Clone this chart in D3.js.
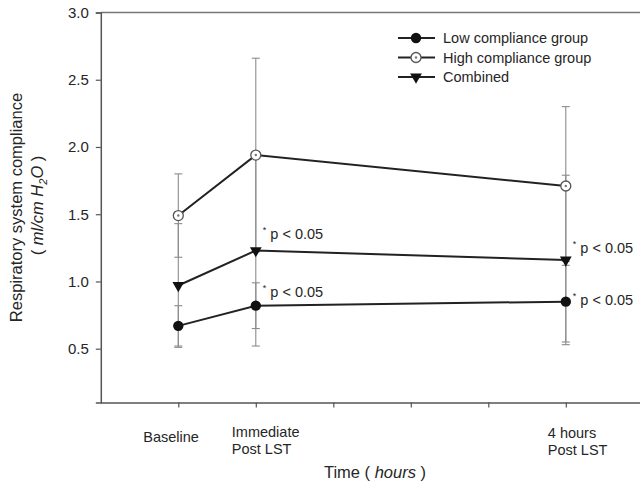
<!DOCTYPE html>
<html>
<head>
<meta charset="utf-8">
<script src="https://cdn.jsdelivr.net/npm/d3@7/dist/d3.min.js"></script>
<style>
  html, body { margin: 0; padding: 0; background: #fff; }
  svg { display: block; font-family: "Liberation Sans", Arial, sans-serif; }
</style>
</head>
<body>
<svg id="chart" width="640" height="491"></svg>
<script>
// Time points (positions on the hours axis, in slot units)
const timeLabels = [["Baseline"], ["Immediate", "Post LST"], ["4 hours", "Post LST"]];
const timeSlots = [0, 1, 5];
const axisSlots = [0, 1, 2, 3, 4, 5, 6];

// Respiratory system compliance, mean and error
const lowMean = [0.67, 0.82, 0.85];
const lowErr = [0.15, 0.17, 0.30];
const highMean = [1.49, 1.94, 1.71];
const highErr = [0.31, 0.72, 0.59];
const combinedMean = [0.97, 1.23, 1.16];
const combinedErr = [0.46, 0.71, 0.63];

const yTicks = [0.5, 1.0, 1.5, 2.0, 2.5, 3.0];
const seriesNames = ["Low compliance group", "High compliance group", "Combined"];

// Significance notes: [time index, series]
const sigNotes = [[1, "combined"], [1, "low"], [2, "combined"], [2, "low"]];
const sigText = "p < 0.05";

const svg = d3.select("#chart");
const x = d3.scaleLinear().domain([-1, 7]).range([100.8, 720.8]);
const y = d3.scaleLinear().domain([0.1, 3.0]).range([402.5, 12.5]);

const axisColor = "#555";
const lineColor = "#222";
const errColor = "#8f8a8c";
const textColor = "#262626";

// frame: top line
svg.append("line")
  .attr("x1", x(-1)).attr("x2", 640)
  .attr("y1", y(3.0)).attr("y2", y(3.0))
  .attr("stroke", "#777").attr("stroke-width", 1.3);

// y axis
const yAxis = svg.append("g")
  .attr("transform", `translate(${x(-1)},0)`)
  .call(d3.axisLeft(y).tickValues(yTicks).tickFormat(d3.format(".1f")).tickSize(5).tickPadding(7));
yAxis.select(".domain").attr("stroke", axisColor).attr("stroke-width", 1.5);
yAxis.selectAll(".tick line").attr("stroke", axisColor).attr("stroke-width", 1.2);
yAxis.selectAll(".tick text")
  .attr("font-family", "Liberation Sans, Arial, sans-serif")
  .attr("font-size", 15).attr("fill", textColor);

// x axis
const xAxis = svg.append("g")
  .attr("transform", `translate(0,${y(0.1)})`)
  .call(d3.axisBottom(x).tickValues(axisSlots).tickFormat("").tickSize(5).tickSizeOuter(0));
xAxis.select(".domain").attr("stroke", axisColor).attr("stroke-width", 1.5);
xAxis.selectAll(".tick line").attr("stroke", axisColor).attr("stroke-width", 1.2);

// category labels under the time axis
const labelShift = [-35, -24, -18];
const labelBase = [442, 437, 438];
timeLabels.forEach((lines, i) => {
  const t = svg.append("text")
    .attr("x", x(timeSlots[i]) + labelShift[i])
    .attr("y", labelBase[i])
    .attr("font-size", 14.5).attr("fill", textColor);
  lines.forEach((ln, j) => {
    t.append("tspan").attr("x", x(timeSlots[i]) + labelShift[i])
      .attr("dy", j === 0 ? 0 : 17).text(ln);
  });
});

// axis titles
const xt = svg.append("text")
  .attr("x", 375).attr("y", 478)
  .attr("text-anchor", "middle").attr("font-size", 16.5).attr("fill", textColor);
xt.append("tspan").text("Time ( ");
xt.append("tspan").attr("font-style", "italic").text("hours");
xt.append("tspan").text(" )");

const yMid = (y(0.1) + y(3.0)) / 2;
svg.append("text")
  .attr("transform", `translate(22,${yMid}) rotate(-90)`)
  .attr("text-anchor", "middle").attr("font-size", 16.5).attr("fill", textColor)
  .text("Respiratory system compliance");
const yt2 = svg.append("text")
  .attr("transform", `translate(43,${yMid - 2}) rotate(-90)`)
  .attr("text-anchor", "middle").attr("font-size", 16.5).attr("fill", textColor);
yt2.append("tspan").text("( ");
yt2.append("tspan").attr("font-style", "italic").text("ml/cm H");
yt2.append("tspan").attr("font-style", "italic").attr("font-size", 11).attr("dy", 4).text("2");
yt2.append("tspan").attr("font-style", "italic").attr("dy", -4).text("O");
yt2.append("tspan").text(" )");

// series definitions
const series = [
  { key: "low", name: seriesNames[0], mean: lowMean, err: lowErr, marker: "filled" },
  { key: "high", name: seriesNames[1], mean: highMean, err: highErr, marker: "open" },
  { key: "combined", name: seriesNames[2], mean: combinedMean, err: combinedErr, marker: "triangle" }
];

// error bars
series.forEach(s => {
  const g = svg.append("g");
  s.mean.forEach((m, i) => {
    const cx = x(timeSlots[i]);
    g.append("line").attr("x1", cx).attr("x2", cx)
      .attr("y1", y(m - s.err[i])).attr("y2", y(m + s.err[i]))
      .attr("stroke", errColor).attr("stroke-width", 1.1);
    [m - s.err[i], m + s.err[i]].forEach(v => {
      g.append("line").attr("x1", cx - 4).attr("x2", cx + 4)
        .attr("y1", y(v)).attr("y2", y(v))
        .attr("stroke", errColor).attr("stroke-width", 1.1);
    });
  });
});

// lines
const line = d3.line().x((d, i) => x(timeSlots[i])).y(d => y(d));
series.forEach(s => {
  svg.append("path").datum(s.mean).attr("d", line)
    .attr("fill", "none").attr("stroke", lineColor).attr("stroke-width", 2);
});

function drawMarker(g, type, cx, cy) {
  if (type === "filled") {
    g.append("circle").attr("cx", cx).attr("cy", cy).attr("r", 5.2).attr("fill", "#111");
  } else if (type === "open") {
    g.append("circle").attr("cx", cx).attr("cy", cy).attr("r", 5).attr("fill", "#fff")
      .attr("stroke", "#555").attr("stroke-width", 1.3);
    g.append("circle").attr("cx", cx).attr("cy", cy).attr("r", 1.2).attr("fill", "#777");
  } else {
    g.append("path")
      .attr("d", d3.symbol().type(d3.symbolTriangle).size(60)())
      .attr("transform", `translate(${cx},${cy}) rotate(180)`)
      .attr("fill", "#111");
  }
}

// markers
series.forEach(s => {
  const g = svg.append("g");
  s.mean.forEach((m, i) => drawMarker(g, s.marker, x(timeSlots[i]), y(m)));
});

// significance notes
const noteOffset = { "1-combined": -12, "1-low": -9, "2-combined": -7, "2-low": 3 };
sigNotes.forEach(([i, key]) => {
  const s = series.find(d => d.key === key);
  const bx = x(timeSlots[i]) + 7;
  const by = y(s.mean[i]) + noteOffset[`${i}-${key}`];
  const t = svg.append("text").attr("x", bx).attr("y", by)
    .attr("font-size", 14.5).attr("fill", textColor);
  t.append("tspan").attr("font-size", 9).attr("dy", -6).text("*");
  t.append("tspan").attr("dy", 6).text(" " + sigText);
});

// legend
const legendRows = [38, 57.5, 77];
series.forEach((s, i) => {
  const g = svg.append("g").attr("transform", `translate(0,${legendRows[i]})`);
  g.append("line").attr("x1", 398).attr("x2", 435).attr("y1", 0).attr("y2", 0)
    .attr("stroke", lineColor).attr("stroke-width", 1.8);
  drawMarker(g, s.marker, 416, 0);
  g.append("text").attr("x", 443).attr("y", 5)
    .attr("font-size", 14.5).attr("fill", textColor).text(s.name);
});
</script>
</body>
</html>
